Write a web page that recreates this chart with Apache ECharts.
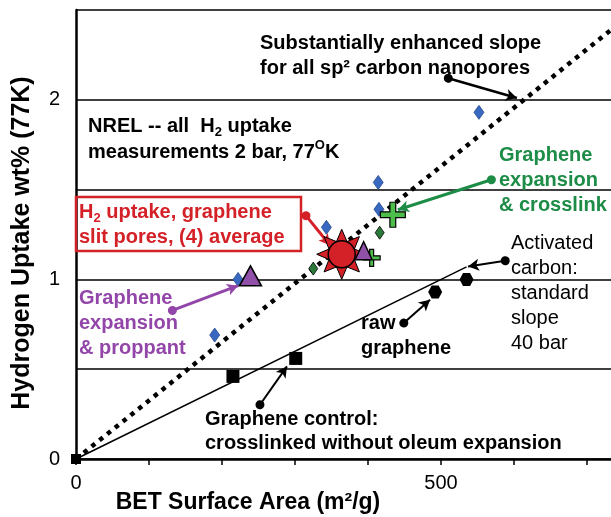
<!DOCTYPE html>
<html lang="en">
<head>
<meta charset="UTF-8">
<title>hydrogen uptake vs BET surface area</title>
<style>
  html, body { margin: 0; padding: 0; background: #fff; }
  #main { width: 611px; height: 517px; }
</style>
</head>
<body>
<div id="main"></div>
<script src="https://cdn.jsdelivr.net/npm/echarts@6/dist/echarts.min.js"></script>
<script>
// labelled ticks
var xTickLabels = [0, 500]
var yTickLabels = [0, 1, 2]

// measurements (BET m2/g, wt%)
var blueDiamonds = [[190, 0.69], [222, 1.0], [343, 1.29], [414, 1.54], [415, 1.39], [552, 1.93]]
var greenDiamonds = [[325, 1.06], [416, 1.26]]
var controlSquares = [[0, 0], [215, 0.46], [301, 0.56]]
var rawHexagons = [[492, 0.93], [535, 1.0]]
var proppantTriangles = [[239, 1.02], [394, 1.16]]
var crosslinkPlus = [[405, 1.12], [434, 1.36]]
var slitPoreAverage = [[364, 1.14]]

// trend lines
var enhancedSlope = [[0, 0], [767, 2.5]]
var standardSlope = [[0, 0], [535, 1.07]]

// annotation arrows: start dot -> arrow head, in data units
var arrows = [
  { from: [510, 2.12], to: [604, 2.01], color: '#000', width: 2.5 },
  { from: [315, 1.355], to: [348, 1.19], color: '#D42027', width: 3 },
  { from: [132, 0.827], to: [222, 0.965], color: '#9346A9', width: 3 },
  { from: [569, 1.555], to: [441, 1.388], color: '#1C8C46', width: 3 },
  { from: [588, 1.104], to: [537, 1.072], color: '#000', width: 2 },
  { from: [449, 0.757], to: [485, 0.887], color: '#000', width: 2 },
  { from: [252, 0.302], to: [289, 0.516], color: '#000', width: 2 }
]

var FONT = '"Liberation Sans", Arial, sans-serif'
var RED = '#D42027'
var PURPLE = '#9346A9'
var GREEN = '#1C8C46'

var starPath = (function () {
  var pts = []
  for (var i = 0; i < 16; i++) {
    var a = -Math.PI / 2 + i * Math.PI / 8
    var r = i % 2 === 0 ? 1 : 0.55
    pts.push((r * Math.cos(a)).toFixed(3) + ',' + (r * Math.sin(a)).toFixed(3))
  }
  return 'path://M' + pts.join('L') + 'Z'
})()
var plusPath = 'path://M-0.7,-3H0.7V-0.7H3V0.7H0.7V3H-0.7V0.7H-3V-0.7H-0.7Z'
var hexPath = 'path://M-1,0L-0.5,-0.866L0.5,-0.866L1,0L0.5,0.866L-0.5,0.866Z'

function sub(color, weight) {
  return { fontSize: 13, lineHeight: 12, verticalAlign: 'bottom', fontWeight: weight, fontFamily: FONT, fill: color }
}
function sup(color, weight) {
  return { fontSize: 13, lineHeight: 12, verticalAlign: 'top', fontWeight: weight, fontFamily: FONT, fill: color }
}

function note(x, top, text, color, weight, lineHeight) {
  return {
    type: 'text',
    x: x,
    y: top,
    z: 10,
    silent: true,
    style: {
      text: text,
      fill: color,
      fontSize: 20,
      fontWeight: weight,
      fontFamily: FONT,
      lineHeight: lineHeight || 25,
      verticalAlign: 'top',
      rich: {
        sub: sub(color, weight),
        sup: sup(color, weight)
      }
    }
  }
}

var arrowLines = arrows.map(function (a) {
  return [
    { coord: a.from, lineStyle: { color: a.color, width: a.width, type: 'solid' } },
    { coord: a.to }
  ]
})

var option = {
  animation: false,
  backgroundColor: '#fff',
  grid: { left: 76, top: 10, width: 584, height: 449, outerBoundsMode: 'none', containLabel: false },
  xAxis: {
    type: 'value',
    min: 0,
    max: 800,
    interval: 100,
    axisLine: { onZero: false, lineStyle: { color: '#000', width: 2.5 } },
    axisTick: { show: true, length: 6, lineStyle: { color: '#000', width: 1.5 } },
    axisLabel: {
      margin: 14,
      color: '#000',
      fontSize: 20,
      fontFamily: FONT,
      formatter: function (v) { return xTickLabels.indexOf(v) >= 0 ? String(v) : '' }
    },
    splitLine: { show: false }
  },
  yAxis: {
    type: 'value',
    min: 0,
    max: 2.5,
    interval: 0.5,
    axisLine: { show: true, onZero: false, lineStyle: { color: '#000', width: 2.5 } },
    axisTick: { show: false },
    axisLabel: {
      margin: 16,
      color: '#000',
      fontSize: 20,
      fontFamily: FONT,
      formatter: function (v) { return yTickLabels.indexOf(v) >= 0 ? String(v) : '' }
    },
    splitLine: { show: true, lineStyle: { color: '#000', width: 1.5 } }
  },
  series: [
    {
      type: 'line',
      data: standardSlope,
      symbol: 'none',
      silent: true,
      lineStyle: { color: '#000', width: 1.5 },
      z: 2
    },
    {
      type: 'line',
      data: enhancedSlope,
      symbol: 'none',
      silent: true,
      lineStyle: { color: '#000', width: 4.5, type: [4.5, 5.5] },
      z: 2
    },
    {
      type: 'scatter',
      data: blueDiamonds,
      symbol: 'diamond',
      symbolSize: [10, 14],
      itemStyle: { color: '#3868C0', borderColor: '#24498E', borderWidth: 0.8, opacity: 1 },
      z: 3
    },
    {
      type: 'scatter',
      data: greenDiamonds,
      symbol: 'diamond',
      symbolSize: [9, 13],
      itemStyle: { color: '#2B7A3A', borderColor: '#000', borderWidth: 0.8, opacity: 1 },
      z: 3
    },
    {
      type: 'scatter',
      data: controlSquares,
      symbol: 'rect',
      symbolSize: function (v, p) { return p.dataIndex === 0 ? 10 : 13 },
      itemStyle: { color: '#000', opacity: 1 },
      z: 4
    },
    {
      type: 'scatter',
      data: rawHexagons,
      symbol: hexPath,
      symbolSize: [14, 13],
      itemStyle: { color: '#000', opacity: 1 },
      z: 4
    },
    {
      type: 'scatter',
      data: crosslinkPlus,
      symbol: plusPath,
      symbolSize: function (v, p) { return p.dataIndex === 0 ? 17 : 25 },
      itemStyle: { color: '#4DBE4B', borderColor: '#000', borderWidth: 1.2, opacity: 1 },
      z: 5
    },
    {
      type: 'scatter',
      data: slitPoreAverage,
      symbol: starPath,
      symbolSize: 50,
      itemStyle: { color: RED, borderColor: '#000', borderWidth: 1, opacity: 1 },
      z: 6
    },
    {
      type: 'scatter',
      data: slitPoreAverage,
      symbol: 'circle',
      symbolSize: 27,
      itemStyle: { color: RED, borderColor: '#000', borderWidth: 1.5, opacity: 1 },
      z: 7
    },
    {
      type: 'scatter',
      data: proppantTriangles,
      symbol: 'triangle',
      symbolSize: function (v, p) { return p.dataIndex === 0 ? [22, 20] : [17, 18] },
      itemStyle: { color: '#9150A8', borderColor: '#000', borderWidth: 1.5, opacity: 1 },
      z: 8
    },
    {
      type: 'line',
      data: [],
      silent: true,
      z: 9,
      markLine: {
        silent: true,
        animation: false,
        symbol: ['circle', 'arrow'],
        symbolSize: [9, 11],
        label: { show: false },
        emphasis: { disabled: true },
        data: arrowLines
      }
    }
  ],
  graphic: [
    {
      type: 'rect',
      z: 9,
      silent: true,
      shape: { x: 76, y: 197, width: 225, height: 54 },
      style: { fill: 'transparent', stroke: RED, lineWidth: 2.5 }
    },
    note(260, 30.5, 'Substantially enhanced slope\nfor all sp² carbon nanopores', '#000', 'bold'),
    note(88, 113, 'NREL -- all  H{sub|2} uptake\nmeasurements 2 bar, 77{sup|O}K', '#000', 'bold', 26),
    note(79, 199.5, 'H{sub|2} uptake, graphene\nslit pores, (4) average', RED, 'bold'),
    note(79, 285.5, 'Graphene\nexpansion\n& proppant', PURPLE, 'bold'),
    note(499, 142.5, 'Graphene\nexpansion\n& crosslink', GREEN, 'bold'),
    note(511, 230.5, 'Activated\ncarbon:\nstandard\nslope\n40 bar', '#000', 'normal'),
    note(361, 310.5, 'raw\ngraphene', '#000', 'bold'),
    note(205, 407, 'Graphene control:\ncrosslinked without oleum expansion', '#000', 'bold', 24),
    {
      type: 'text',
      x: 248,
      y: 503,
      silent: true,
      style: {
        text: 'BET Surface Area (m²/g)',
        fill: '#000',
        fontSize: 23,
        fontWeight: 'bold',
        fontFamily: FONT,
        align: 'center',
        verticalAlign: 'middle'
      }
    },
    {
      type: 'text',
      x: 22,
      y: 243,
      rotation: Math.PI / 2,
      silent: true,
      style: {
        text: 'Hydrogen Uptake wt% (77K)',
        fill: '#000',
        fontSize: 25,
        fontWeight: 'bold',
        fontFamily: FONT,
        align: 'center',
        verticalAlign: 'middle'
      }
    }
  ]
}

var chart = echarts.init(document.getElementById('main'))
chart.setOption(option)
</script>
</body>
</html>
